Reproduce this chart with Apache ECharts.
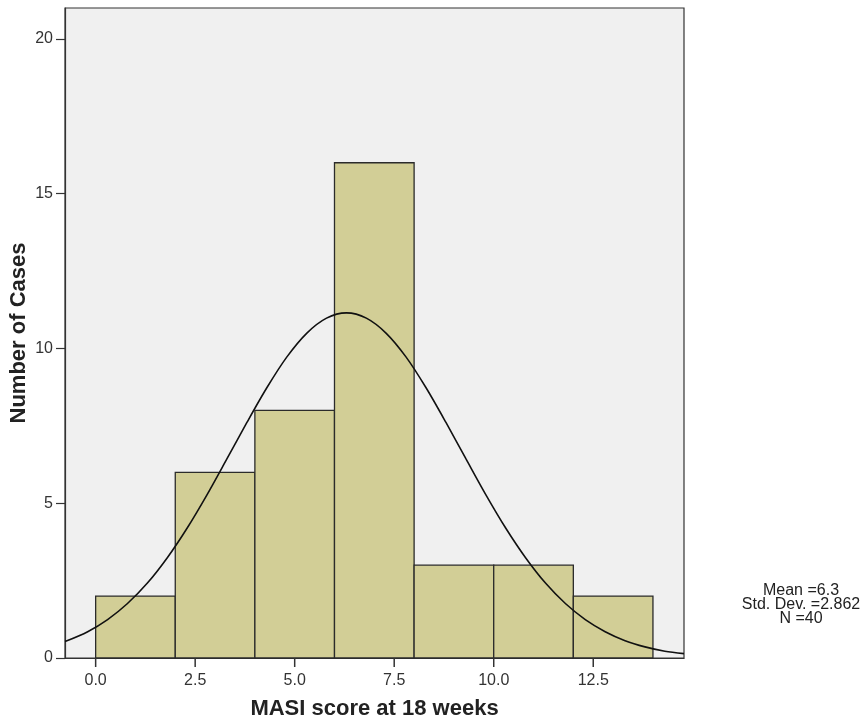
<!DOCTYPE html>
<html>
<head>
<meta charset="utf-8">
<script src="https://cdn.jsdelivr.net/npm/echarts@6/dist/echarts.min.js"></script>
<style>html,body{margin:0;padding:0;background:#fff;}#c{width:865px;height:723px;}</style>
</head>
<body>
<div id="c"></div>
<script>
// Histogram bins: [start, end, count]
const binStarts = [0, 2, 4, 6, 8, 10, 12];
const binEnds   = [2, 4, 6, 8, 10, 12, 14];
const binCounts = [2, 6, 8, 16, 3, 3, 2];
// Normal curve points
const curveX = [-0.77, -0.2, 0.3, 0.8, 1.3, 1.8, 2.3, 2.8, 3.3, 3.8, 4.3, 4.8, 5.3, 5.8, 6.3, 6.8, 7.3, 7.8, 8.3, 8.8, 9.3, 9.8, 10.3, 10.8, 11.3, 11.8, 12.3, 12.8, 13.3, 13.8, 14.3, 14.78];
const curveY = [0.53, 0.85, 1.24, 1.76, 2.42, 3.24, 4.20, 5.28, 6.44, 7.61, 8.73, 9.72, 10.49, 10.98, 11.15, 10.98, 10.49, 9.72, 8.73, 7.61, 6.44, 5.28, 4.20, 3.24, 2.42, 1.76, 1.24, 0.85, 0.56, 0.36, 0.22, 0.14];
const xTicks = [0, 2.5, 5, 7.5, 10, 12.5];
const yTicks = [0, 5, 10, 15, 20];
const statLines = ['Mean =6.3', 'Std. Dev. =2.862', 'N =40'];

const barData = binStarts.map((s, i) => [s, binEnds[i], binCounts[i]]);
const lineData = curveX.map((x, i) => [x, curveY[i]]);

const chart = echarts.init(document.getElementById('c'));
const font = 'Liberation Sans, Arial, sans-serif';
chart.setOption({
  animation: false,
  grid: { left: 65, right: 181, top: 8, bottom: 65, outerBoundsMode: 'none', containLabel: false, show: true, backgroundColor: '#F0F0F0', borderColor: '#333', borderWidth: 1.2 },
  xAxis: {
    type: 'value', min: -0.77, max: 14.78,
    name: 'MASI score at 18 weeks', nameLocation: 'middle', nameGap: 40, nameMoveOverlap: false,
    nameTextStyle: { fontFamily: font, fontWeight: 'bold', fontSize: 22, color: '#222' },
    axisLine: { show: true, onZero: false, lineStyle: { color: '#333', width: 1.2 } },
    axisTick: { show: false },
    axisLabel: { customValues: xTicks, formatter: v => v.toFixed(1), fontFamily: font, fontSize: 16, color: '#333', margin: 15 },
    splitLine: { show: false }
  },
  yAxis: {
    type: 'value', min: 0, max: 21,
    name: 'Number of Cases', nameLocation: 'middle', nameGap: 35, nameMoveOverlap: false,
    nameTextStyle: { fontFamily: font, fontWeight: 'bold', fontSize: 22, color: '#222' },
    axisLine: { show: true, onZero: false, lineStyle: { color: '#333', width: 1.2 } },
    axisTick: { show: true, inside: false, length: 9, customValues: yTicks, lineStyle: { color: '#333', width: 1.2 } },
    axisLabel: { customValues: yTicks, fontFamily: font, fontSize: 16, color: '#333', margin: 12 },
    splitLine: { show: false }
  },
  graphic: statLines.map((t, i) => ({
    type: 'text', x: 801, y: 591 + i * 13.6,
    style: { text: t, fill: '#222', font: '16px Liberation Sans, Arial, sans-serif', textAlign: 'center', textVerticalAlign: 'middle' }
  })),
  series: [
    {
      type: 'custom',
      renderItem: (params, api) => {
        const p0 = api.coord([api.value(0), 0]);
        const p1 = api.coord([api.value(1), api.value(2)]);
        return {
          type: 'rect',
          shape: { x: p0[0], y: p1[1], width: p1[0] - p0[0], height: p0[1] - p1[1] },
          style: { fill: '#D2CE96', stroke: '#2b2b2b', lineWidth: 1.3 }
        };
      },
      encode: { x: [0, 1], y: 2 },
      data: barData,
      z: 2
    },
    {
      type: 'line', data: lineData, smooth: 0.3, showSymbol: false,
      lineStyle: { color: '#111', width: 1.6 }, z: 3
    },
    {
      // x-axis tick marks drawn through the axis scale
      type: 'custom', clip: false, silent: true,
      renderItem: (params, api) => {
        const p = api.coord([api.value(0), api.value(1)]);
        return {
          type: 'rect',
          shape: { x: p[0] - 0.75, y: p[1], width: 1.5, height: 9 },
          style: { fill: '#333' }
        };
      },
      encode: { x: 0, y: 1 },
      data: xTicks.map(v => [v, 0]),
      z: 10
    }
  ]
});
</script>
</body>
</html>
